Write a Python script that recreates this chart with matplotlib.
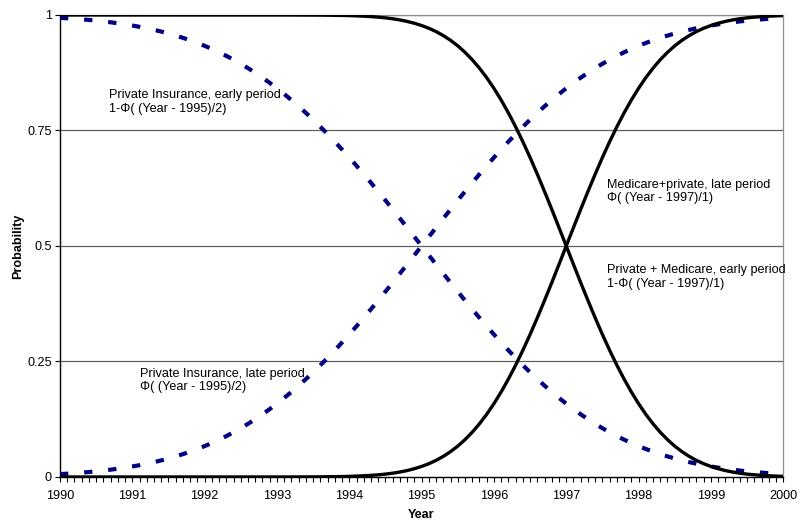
"""
Normal-CDF transition curves for insurance coverage, 1990-2000.
"""
import matplotlib
matplotlib.use("Agg")
from matplotlib import pyplot as plt
from matplotlib.ticker import MultipleLocator

plt.rcParams["font.family"] = ["Liberation Sans", "DejaVu Sans"]

# tenth-of-a-year grid
years = [1990 + i / 10 for i in range(101)]

# private insurance, late period (slow transition centred on 1995)
private_late = [
    0.0062, 0.0071, 0.0082, 0.0094, 0.0107, 0.0122, 0.0139, 0.0158, 0.0179, 0.0202,
    0.0228, 0.0256, 0.0287, 0.0322, 0.0359, 0.0401, 0.0446, 0.0495, 0.0548, 0.0606,
    0.0668, 0.0735, 0.0808, 0.0885, 0.0968, 0.1056, 0.1151, 0.1251, 0.1357, 0.1469,
    0.1587, 0.1711, 0.1841, 0.1977, 0.2119, 0.2266, 0.2420, 0.2578, 0.2743, 0.2912,
    0.3085, 0.3264, 0.3446, 0.3632, 0.3821, 0.4013, 0.4207, 0.4404, 0.4602, 0.4801,
    0.5000,
    0.5199, 0.5398, 0.5596, 0.5793, 0.5987, 0.6179, 0.6368, 0.6554, 0.6736, 0.6915,
    0.7088, 0.7257, 0.7422, 0.7580, 0.7734, 0.7881, 0.8023, 0.8159, 0.8289, 0.8413,
    0.8531, 0.8643, 0.8749, 0.8849, 0.8944, 0.9032, 0.9115, 0.9192, 0.9265, 0.9332,
    0.9394, 0.9452, 0.9505, 0.9554, 0.9599, 0.9641, 0.9678, 0.9713, 0.9744, 0.9772,
    0.9798, 0.9821, 0.9842, 0.9861, 0.9878, 0.9893, 0.9906, 0.9918, 0.9929, 0.9938,
]
# private insurance, early period
private_early = [
    0.9938, 0.9929, 0.9918, 0.9906, 0.9893, 0.9878, 0.9861, 0.9842, 0.9821, 0.9798,
    0.9772, 0.9744, 0.9713, 0.9678, 0.9641, 0.9599, 0.9554, 0.9505, 0.9452, 0.9394,
    0.9332, 0.9265, 0.9192, 0.9115, 0.9032, 0.8944, 0.8849, 0.8749, 0.8643, 0.8531,
    0.8413, 0.8289, 0.8159, 0.8023, 0.7881, 0.7734, 0.7580, 0.7422, 0.7257, 0.7088,
    0.6915, 0.6736, 0.6554, 0.6368, 0.6179, 0.5987, 0.5793, 0.5596, 0.5398, 0.5199,
    0.5000,
    0.4801, 0.4602, 0.4404, 0.4207, 0.4013, 0.3821, 0.3632, 0.3446, 0.3264, 0.3085,
    0.2912, 0.2743, 0.2578, 0.2420, 0.2266, 0.2119, 0.1977, 0.1841, 0.1711, 0.1587,
    0.1469, 0.1357, 0.1251, 0.1151, 0.1056, 0.0968, 0.0885, 0.0808, 0.0735, 0.0668,
    0.0606, 0.0548, 0.0495, 0.0446, 0.0401, 0.0359, 0.0322, 0.0287, 0.0256, 0.0228,
    0.0202, 0.0179, 0.0158, 0.0139, 0.0122, 0.0107, 0.0094, 0.0082, 0.0071, 0.0062,
]
# medicare + private, late period (fast transition centred on 1997)
medicare_late = [
    0.0, 0.0, 0.0, 0.0, 0.0, 0.0, 0.0, 0.0, 0.0, 0.0,
    0.0, 0.0, 0.0, 0.0, 0.0, 0.0, 0.0, 0.0, 0.0, 0.0,
    0.0, 0.0, 0.0, 0.0, 0.0, 0.0, 0.0, 0.0, 0.0, 0.0,
    0.0, 0.0, 0.0001, 0.0001, 0.0002, 0.0002, 0.0003, 0.0005, 0.0007, 0.0010,
    0.0013, 0.0019, 0.0026, 0.0035, 0.0047, 0.0062, 0.0082, 0.0107, 0.0139, 0.0179,
    0.0228, 0.0287, 0.0359, 0.0446, 0.0548, 0.0668, 0.0808, 0.0968, 0.1151, 0.1357,
    0.1587, 0.1841, 0.2119, 0.2420, 0.2743, 0.3085, 0.3446, 0.3821, 0.4207, 0.4602,
    0.5000, 0.5398, 0.5793, 0.6179, 0.6554, 0.6915, 0.7257, 0.7580, 0.7881, 0.8159,
    0.8413, 0.8643, 0.8849, 0.9032, 0.9192, 0.9332, 0.9452, 0.9554, 0.9641, 0.9713,
    0.9772, 0.9821, 0.9861, 0.9893, 0.9918, 0.9938, 0.9953, 0.9965, 0.9974, 0.9981,
    0.9987,
]
# private + medicare, early period
medicare_early = [
    1.0, 1.0, 1.0, 1.0, 1.0, 1.0, 1.0, 1.0, 1.0, 1.0,
    1.0, 1.0, 1.0, 1.0, 1.0, 1.0, 1.0, 1.0, 1.0, 1.0,
    1.0, 1.0, 1.0, 1.0, 1.0, 1.0, 1.0, 1.0, 1.0, 1.0,
    1.0, 1.0, 0.9999, 0.9999, 0.9998, 0.9998, 0.9997, 0.9995, 0.9993, 0.9990,
    0.9987, 0.9981, 0.9974, 0.9965, 0.9953, 0.9938, 0.9918, 0.9893, 0.9861, 0.9821,
    0.9772, 0.9713, 0.9641, 0.9554, 0.9452, 0.9332, 0.9192, 0.9032, 0.8849, 0.8643,
    0.8413, 0.8159, 0.7881, 0.7580, 0.7257, 0.6915, 0.6554, 0.6179, 0.5793, 0.5398,
    0.5000, 0.4602, 0.4207, 0.3821, 0.3446, 0.3085, 0.2743, 0.2420, 0.2119, 0.1841,
    0.1587, 0.1357, 0.1151, 0.0968, 0.0808, 0.0668, 0.0548, 0.0446, 0.0359, 0.0287,
    0.0228, 0.0179, 0.0139, 0.0107, 0.0082, 0.0062, 0.0047, 0.0035, 0.0026, 0.0019,
    0.0013,
]

fig = plt.figure(figsize=(8, 5.26), dpi=100)
ax = fig.add_axes([0.075, 0.0932, 0.904, 0.8783])

ax.set_xlim(1990, 2000)
ax.set_ylim(0, 1)

for y in [0.25, 0.5, 0.75, 1.0]:
    ax.axhline(y, color="#606060", linewidth=0.9, zorder=1)

navy = "#000080"
dash = (0, (2.0, 3.8))
ax.plot(years, private_early, color=navy, linewidth=3.0, linestyle=dash,
        zorder=3)
ax.plot(years, private_late, color=navy, linewidth=3.0, linestyle=dash,
        zorder=3)
ax.plot(years, medicare_early, color="black", linewidth=2.4,
        solid_joinstyle="round", zorder=4)
ax.plot(years, medicare_late, color="black", linewidth=2.4,
        solid_joinstyle="round", zorder=4)

fs = 9.1
ax.text(1990.68, 0.812, "Private Insurance, early period\n1-\u03a6( (Year - 1995)/2)",
        fontsize=fs, va="center", ha="left", linespacing=1.2)
ax.text(1991.11, 0.209, "Private Insurance, late period\n\u03a6( (Year - 1995)/2)",
        fontsize=fs, va="center", ha="left", linespacing=1.2)
ax.text(1997.57, 0.618, "Medicare+private, late period\n\u03a6( (Year - 1997)/1)",
        fontsize=fs, va="center", ha="left", linespacing=1.2)
ax.text(1997.57, 0.432, "Private + Medicare, early period\n1-\u03a6( (Year - 1997)/1)",
        fontsize=fs, va="center", ha="left", linespacing=1.2)

ax.set_xticks(range(1990, 2001))
ax.xaxis.set_minor_locator(MultipleLocator(0.1))
ax.set_yticks([0, 0.25, 0.5, 0.75, 1])
ax.set_yticklabels(["0", "0.25", "0.5", "0.75", "1"])
ax.tick_params(axis="both", which="major", direction="out", length=3.5,
               width=0.8, labelsize=fs)
ax.tick_params(axis="x", which="major", pad=6)
ax.tick_params(axis="y", which="major", pad=2.5)
ax.tick_params(axis="x", which="minor", direction="out", length=3.5, width=0.8)

for side in ["left", "bottom"]:
    ax.spines[side].set_color("black")
    ax.spines[side].set_linewidth(1.0)
for side in ["top", "right"]:
    ax.spines[side].set_color("#909090")
    ax.spines[side].set_linewidth(0.9)

ax.set_xlabel("Year", fontsize=fs, fontweight="bold", va="center")
ax.set_ylabel("Probability", fontsize=fs, fontweight="bold", va="center")
ax.xaxis.set_label_coords(0.5, -0.082)
ax.yaxis.set_label_coords(-0.058, 0.5)

plt.savefig("out.png", dpi=100)
